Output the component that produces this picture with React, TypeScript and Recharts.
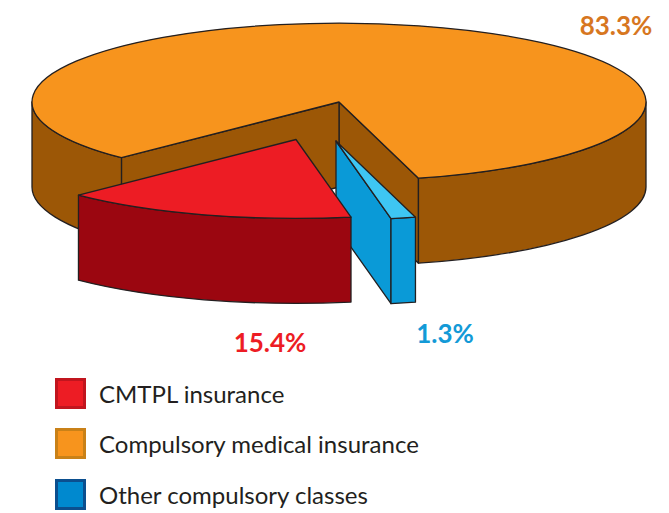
import React from "react";
import { PieChart, Pie, Legend } from "recharts";

const CATEGORIES = [
  "CMTPL insurance",
  "Compulsory medical insurance",
  "Other compulsory classes",
];
const SHARES = [15.4, 83.3, 1.3];
// order of the slices around the pie, counter-clockwise from the back-right cut
const PIE_ORDER = [1, 0, 2];
// which drawing layer a slice goes on (higher = drawn later, in front)
const LAYER = [1, 0, 0];

const TOP_COLORS = ["#ED1C24", "#F7941D", "#3EC6F3"];
const SIDE_COLORS = ["#9B0610", "#9C5706", "#0A9AD7"];
const LEGEND_FILL = ["#ED1C24", "#F7941D", "#0089CF"];
const LEGEND_BORDER = ["#C1151E", "#C98118", "#0B4F8F"];
const LABEL_COLORS = ["#ED1C24", "#D7771F", "#139AD7"];
// exploded slices are pushed towards the viewer (screen px)
const EXPLODE = [
  [-43, 37.5],
  [0, 0],
  [-3, 39],
];
const LABEL_POS = [
  [270, 352],
  [616, 35],
  [445, 343],
];

const TILT = 0.257;
const DEPTH = 85;
const OUTLINE = "#231F20";

const pieData = PIE_ORDER.map((i) => ({
  name: CATEGORIES[i],
  value: SHARES[i],
  idx: i,
}));

const rad = (d: number) => (d * Math.PI) / 180;

function renderSlice(props: any, layer: number) {
  const { cx, cy, outerRadius: r, startAngle, endAngle } = props;
  const i: number = props.payload?.idx ?? props.idx;
  if (LAYER[i] !== layer) return <g key={`empty-${layer}-${i}`} />;

  const a = Math.min(startAngle, endAngle);
  const b = Math.max(startAngle, endAngle);
  const [ox, oy] = EXPLODE[i];
  const ry = r * TILT;

  const pt = (ang: number, rr: number, dz: number) => [
    cx + ox + rr * Math.cos(rad(ang)),
    cy + oy - rr * TILT * Math.sin(rad(ang)) + dz,
  ];
  const f = (p: number[]) => `${p[0].toFixed(2)},${p[1].toFixed(2)}`;

  const faces: string[] = [];
  // cut faces that look towards the viewer
  const cutFace = (ang: number) =>
    `M${f(pt(0, 0, 0))} L${f(pt(ang, r, 0))} L${f(pt(ang, r, DEPTH))} L${f(
      pt(0, 0, DEPTH)
    )} Z`;
  if (Math.cos(rad(a)) > 0) faces.push(cutFace(a));
  if (Math.cos(rad(b)) < 0) faces.push(cutFace(b));

  // outer wall, front half only
  for (let n = -1; n <= 2; n++) {
    const s = Math.max(a, 180 + 360 * n);
    const e = Math.min(b, 360 + 360 * n);
    if (e > s) {
      const large = e - s > 180 ? 1 : 0;
      faces.push(
        `M${f(pt(s, r, 0))} A${r},${ry} 0 ${large} 0 ${f(pt(e, r, 0))} L${f(
          pt(e, r, DEPTH)
        )} A${r},${ry} 0 ${large} 1 ${f(pt(s, r, DEPTH))} Z`
      );
    }
  }

  const large = b - a > 180 ? 1 : 0;
  const top = `M${f(pt(0, 0, 0))} L${f(pt(a, r, 0))} A${r},${ry} 0 ${large} 0 ${f(
    pt(b, r, 0)
  )} Z`;

  const [lx, ly] = LABEL_POS[i];
  return (
    <g key={`slice-${i}`}>
      {faces.map((d, k) => (
        <path
          key={k}
          d={d}
          fill={SIDE_COLORS[i]}
          stroke={OUTLINE}
          strokeWidth={1.3}
          strokeLinejoin="round"
        />
      ))}
      <path
        d={top}
        fill={TOP_COLORS[i]}
        stroke={OUTLINE}
        strokeWidth={1.3}
        strokeLinejoin="round"
      />
      <text
        x={lx}
        y={ly}
        textAnchor="middle"
        fontFamily="Lato, 'Open Sans', sans-serif"
        fontWeight={700}
        fontSize={26}
        fill={LABEL_COLORS[i]}
      >
        {`${SHARES[i].toFixed(1)}%`}
      </text>
    </g>
  );
}

function renderLegend() {
  return (
    <div style={{ fontFamily: "Lato, 'Open Sans', sans-serif" }}>
      {CATEGORIES.map((c, i) => (
        <div
          key={c}
          style={{ display: "flex", alignItems: "center", height: 50.5 }}
        >
          <div
            style={{
              width: 31,
              height: 31,
              boxSizing: "border-box",
              background: LEGEND_FILL[i],
              border: `3px solid ${LEGEND_BORDER[i]}`,
              flexShrink: 0,
            }}
          />
          <span
            style={{
              marginLeft: 13,
              fontSize: 24,
              lineHeight: "31px",
              color: "#231F20",
              whiteSpace: "nowrap",
            }}
          >
            {c}
          </span>
        </div>
      ))}
    </div>
  );
}

export default function App() {
  const pieProps = {
    data: pieData,
    dataKey: "value",
    nameKey: "name",
    cx: 339,
    cy: 102,
    outerRadius: 307,
    startAngle: 285,
    endAngle: 645,
    fill: "transparent",
    stroke: "none",
    labelLine: false,
    isAnimationActive: false,
  };
  return (
    <div
      style={{
        position: "absolute",
        left: 0,
        top: 0,
        width: 669,
        height: 513,
        background: "#fff",
      }}
    >
      <PieChart
        width={669}
        height={513}
        margin={{ top: 0, right: 0, bottom: 0, left: 0 }}
      >
        <Pie {...pieProps} label={(p: any) => renderSlice(p, 0)} />
        <Pie {...pieProps} label={(p: any) => renderSlice(p, 1)} />
        <Legend
          verticalAlign="bottom"
          align="left"
          content={renderLegend}
          wrapperStyle={{ left: 55, top: 368, bottom: "auto", width: 420 }}
        />
      </PieChart>
    </div>
  );
}
